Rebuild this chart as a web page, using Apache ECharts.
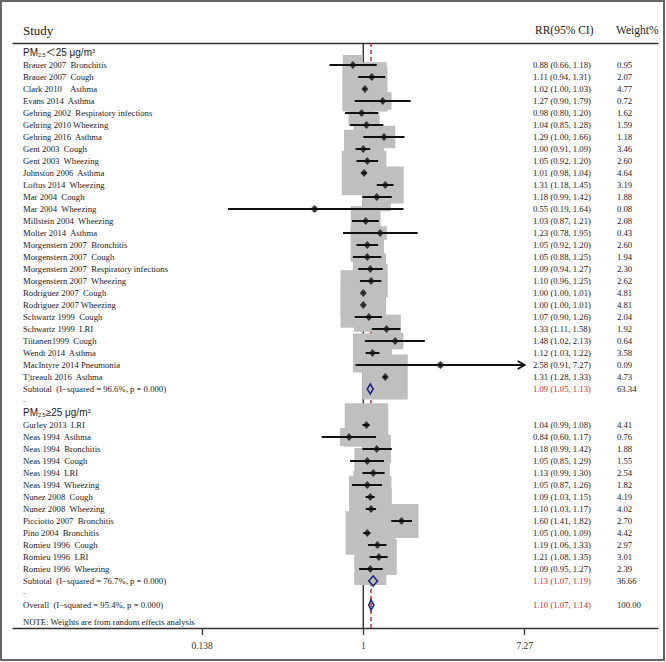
<!DOCTYPE html>
<html><head><meta charset="utf-8">
<script src="https://cdn.jsdelivr.net/npm/echarts@6/dist/echarts.min.js"></script>
<style>html,body{margin:0;padding:0;background:#fff}#c{width:666px;height:662px}</style>
</head><body><div id="c"></div>
<script>
// ---------- data ----------
const group1Names = ['Brauer 2007  Bronchitis','Brauer 2007  Cough','Clark 2010    Asthma','Evans 2014  Asthma','Gehring 2002  Respiratory infections','Gehring 2010 Wheezing','Gehring 2016  Asthma','Gent 2003  Cough','Gent 2003  Wheezing','Johnston 2006  Asthma','Loftus 2014  Wheezing','Mar 2004  Cough','Mar 2004  Wheezing','Millstein 2004  Wheezing','Molter 2014  Asthma','Morgenstern 2007  Bronchitis','Morgenstern 2007  Cough','Morgenstern 2007  Respiratory infections','Morgenstern 2007  Wheezing','Rodriguez 2007  Cough','Rodriguez 2007 Wheezing','Schwartz 1999  Cough','Schwartz 1999  LRI','Tiitanen1999  Cough','Wendt 2014  Asthma','MacIntyre 2014 Pneumonia','T¦treault 2016  Asthma'];
const group1RR = [0.88,1.11,1.02,1.27,0.98,1.04,1.29,1.00,1.05,1.01,1.31,1.18,0.55,1.03,1.23,1.05,1.05,1.09,1.10,1.00,1.00,1.07,1.33,1.48,1.12,2.58,1.31];
const group1Lo = [0.66,0.94,1.00,0.90,0.80,0.85,1.00,0.91,0.92,0.98,1.18,0.99,0.19,0.87,0.78,0.92,0.88,0.94,0.96,1.00,1.00,0.90,1.11,1.02,1.03,0.91,1.28];
const group1Hi = [1.18,1.31,1.03,1.79,1.20,1.28,1.66,1.09,1.20,1.04,1.45,1.42,1.64,1.21,1.95,1.20,1.25,1.27,1.25,1.01,1.01,1.26,1.58,2.13,1.22,7.27,1.33];
const group1W = [0.95,2.07,4.77,0.72,1.62,1.59,1.18,3.46,2.60,4.64,3.19,1.88,0.08,2.08,0.43,2.60,1.94,2.30,2.62,4.81,4.81,2.04,1.92,0.64,3.58,0.09,4.73];

const group2Names = ['Gurley 2013  LRI','Neas 1994  Asthma','Neas 1994  Bronchitis','Neas 1994  Cough','Neas 1994  LRI','Neas 1994  Wheezing','Nunez 2008  Cough','Nunez 2008  Wheezing','Picciotto 2007  Bronchitis','Pino 2004  Bronchitis','Romieu 1996  Cough','Romieu 1996  LRI','Romieu 1996  Wheezing'];
const group2RR = [1.04,0.84,1.18,1.05,1.13,1.05,1.09,1.10,1.60,1.05,1.19,1.21,1.09];
const group2Lo = [0.99,0.60,0.99,0.85,0.99,0.87,1.03,1.03,1.41,1.00,1.06,1.08,0.95];
const group2Hi = [1.08,1.17,1.42,1.29,1.30,1.26,1.15,1.17,1.82,1.09,1.33,1.35,1.27];
const group2W = [4.41,0.76,1.88,1.55,2.54,1.82,4.19,4.02,2.70,4.42,2.97,3.01,2.39];

const pooledNames = ['Subtotal  (I\u2212squared = 96.6%, p = 0.000)','Subtotal  (I\u2212squared = 76.7%, p = 0.000)','Overall  (I\u2212squared = 95.4%, p = 0.000)'];
const pooledRR = [1.09,1.13,1.10];
const pooledLo = [1.05,1.07,1.07];
const pooledHi = [1.13,1.19,1.14];
const pooledW = [63.34,36.66,100.00];

const groupHeaders = [['PM','2.5','＜25 μg/m','3'],['PM','2.5','≥25 μg/m','3']];
const noteText = 'NOTE: Weights are from random effects analysis';
const tickValues = [0.138, 1, 7.27];
const refLines = [1, 1.10]; // null line, overall estimate

// ---------- row layout ----------
const rows = [];
let r = -1;
rows.push({kind:'header', hdr:0, row:r++});
group1Names.forEach((n,i)=>rows.push({kind:'study', name:n, rr:group1RR[i], lo:group1Lo[i], hi:group1Hi[i], w:group1W[i], row:r++}));
rows.push({kind:'pooled', name:pooledNames[0], rr:pooledRR[0], lo:pooledLo[0], hi:pooledHi[0], w:pooledW[0], row:r++});
rows.push({kind:'dot', row:r++});
rows.push({kind:'header', hdr:1, row:r++});
group2Names.forEach((n,i)=>rows.push({kind:'study', name:n, rr:group2RR[i], lo:group2Lo[i], hi:group2Hi[i], w:group2W[i], row:r++}));
rows.push({kind:'pooled', name:pooledNames[1], rr:pooledRR[1], lo:pooledLo[1], hi:pooledHi[1], w:pooledW[1], row:r++});
rows.push({kind:'dot', row:r++});
rows.push({kind:'pooled', name:pooledNames[2], rr:pooledRR[2], lo:pooledLo[2], hi:pooledHi[2], w:pooledW[2], row:r++});
rows.push({kind:'note', row:r + 0.4});

const studies = rows.filter(d=>d.kind==='study');
const pooled = rows.filter(d=>d.kind==='pooled');
const maxTick = tickValues[tickValues.length-1];

const SERIF = '"Liberation Serif","Times New Roman",serif';
const SANS = '"Liberation Sans","Noto Sans CJK SC",sans-serif';
const BOX_K = 20.7;
const fmt = v => v.toFixed(2);

const chart = echarts.init(document.getElementById('c'), null, {renderer:'svg'});

const xCommon = {type:'log', logBase:Math.E, min:0.01351, max:37.4, splitLine:{show:false}};

chart.setOption({
  animation:false,
  backgroundColor:'#fff',
  grid:{left:13, right:8, top:43, bottom:34, containLabel:false},
  xAxis:[
    Object.assign({}, xCommon, {
      position:'bottom',
      axisLine:{show:true, onZero:false, lineStyle:{color:'#333', width:1.3}},
      axisTick:{show:true, customValues:tickValues, length:7, lineStyle:{color:'#333', width:1.3}},
      axisLabel:{show:true, customValues:tickValues, margin:13, color:'#333', fontFamily:SERIF, fontSize:9.5,
        formatter:v=>String(+(+v).toPrecision(3))}
    }),
    Object.assign({}, xCommon, {
      position:'top',
      axisLine:{show:true, onZero:false, lineStyle:{color:'#333', width:1.3}},
      axisTick:{show:false}, axisLabel:{show:false}
    })
  ],
  yAxis:{type:'value', inverse:true, min:-1.8333, max:46.9167, show:false},
  graphic:[
    {type:'rect', shape:{x:1, y:1, width:663, height:659}, style:{stroke:'#666', lineWidth:2, fill:null}, silent:true},
    {type:'text', x:23, y:30, style:{text:'Study', font:'13px '+SERIF, fill:'#222', verticalAlign:'middle'}},
    {type:'text', x:535, y:30, style:{text:'RR(95% CI)', font:'11.5px '+SERIF, fill:'#222', verticalAlign:'middle'}},
    {type:'text', x:616, y:30, style:{text:'Weight%', font:'11.5px '+SERIF, fill:'#222', verticalAlign:'middle'}}
  ],
  series:[
    // reference lines (behind boxes)
    {type:'custom', z:1, xAxisIndex:0,
      data:refLines.map((v,i)=>[v, 0, i]),
      encode:{x:0, y:1},
      renderItem:(p, api)=>{
        const cs = p.coordSys;
        const x = api.coord([api.value(0), 0])[0];
        const dashed = api.value(2) === 1;
        return {type:'line', shape:{x1:x, y1:cs.y, x2:x, y2:cs.y+cs.height},
          style: dashed ? {stroke:'#b23a3a', lineWidth:1.5, lineDash:[4,3]} : {stroke:'#222', lineWidth:1.3}};
      }},
    // weight boxes
    {type:'custom', z:2, xAxisIndex:0,
      data:studies.map(d=>[d.rr, d.row, d.w]),
      encode:{x:0, y:1},
      renderItem:(p, api)=>{
        const c = api.coord([api.value(0), api.value(1)]);
        const s = BOX_K*Math.sqrt(api.value(2));
        return {type:'rect', shape:{x:c[0]-s/2, y:c[1]-s/2, width:s, height:s}, style:{fill:'#bfbfbf'}};
      }},
    // CI lines
    {type:'custom', z:3, xAxisIndex:0,
      data:studies.map(d=>[d.lo, d.hi, d.row, d.hi>=maxTick?1:0]),
      encode:{x:[0,1], y:2},
      renderItem:(p, api)=>{
        const row = api.value(2);
        const a = api.coord([api.value(0), row]);
        const b = api.coord([api.value(1), row]);
        const ch = [{type:'line', shape:{x1:a[0], y1:a[1], x2:b[0], y2:b[1]}, style:{stroke:'#111', lineWidth:2}}];
        if (api.value(3)) ch.push({type:'polyline', shape:{points:[[b[0]-7,b[1]-4],[b[0],b[1]],[b[0]-7,b[1]+4]]}, style:{stroke:'#111', lineWidth:1.8, fill:null}});
        return {type:'group', children:ch};
      }},
    // point estimates
    {type:'scatter', z:4, xAxisIndex:0, symbol:'diamond', symbolSize:[7,8],
      itemStyle:{color:'#111'},
      data:studies.map(d=>[d.rr, d.row])},
    // pooled diamonds
    {type:'custom', z:4, xAxisIndex:0,
      data:pooled.map(d=>[d.rr, d.lo, d.hi, d.row]),
      encode:{x:[0,1,2], y:3},
      renderItem:(p, api)=>{
        const row = api.value(3);
        const m = api.coord([api.value(0), row]);
        const a = api.coord([api.value(1), row]);
        const b = api.coord([api.value(2), row]);
        const h = 5;
        return {type:'polygon', shape:{points:[[a[0],a[1]],[m[0],m[1]-h],[b[0],b[1]],[m[0],m[1]+h]]},
          style:{stroke:'#1f2a80', lineWidth:1.6, fill:null}};
      }},
    // texts
    {type:'custom', z:6, xAxisIndex:0,
      data:rows.map((d,i)=>[1, d.row, i]),
      encode:{x:0, y:1},
      renderItem:(p, api)=>{
        const d = rows[api.value(2)];
        const y = api.coord([1, d.row])[1];
        const base = {font:'8.7px '+SERIF, fill:'#222', verticalAlign:'middle', textVerticalAlign:'middle'};
        if (d.kind==='header') {
          const h = groupHeaders[d.hdr];
          return {type:'text', x:23, y:y, style:{
            text:'{a|'+h[0]+'}{s|'+h[1]+'}{a|'+h[2]+'}{p|'+h[3]+'}',
            verticalAlign:'middle', textVerticalAlign:'middle',
            rich:{
              a:{fontFamily:SANS, fontSize:10, fill:'#222', color:'#222', verticalAlign:'middle'},
              s:{fontFamily:SANS, fontSize:5.5, fill:'#222', color:'#222', verticalAlign:'bottom'},
              p:{fontFamily:SANS, fontSize:5.5, fill:'#222', color:'#222', verticalAlign:'top'}
            }}};
        }
        if (d.kind==='dot') return {type:'text', x:23, y:y-2, style:Object.assign({}, base, {text:'.'})};
        if (d.kind==='note') return {type:'text', x:23, y:y, style:Object.assign({}, base, {text:noteText})};
        const red = d.kind==='pooled';
        return {type:'group', children:[
          {type:'text', x:23, y:y, style:Object.assign({}, base, {text:d.name})},
          {type:'text', x:533, y:y, style:Object.assign({}, base, {text:fmt(d.rr)+' ('+fmt(d.lo)+', '+fmt(d.hi)+')', fill:red?'#d42a2a':'#222'})},
          {type:'text', x:617, y:y, style:Object.assign({}, base, {text:fmt(d.w)})}
        ]};
      }}
  ]
});
</script>
</body></html>
